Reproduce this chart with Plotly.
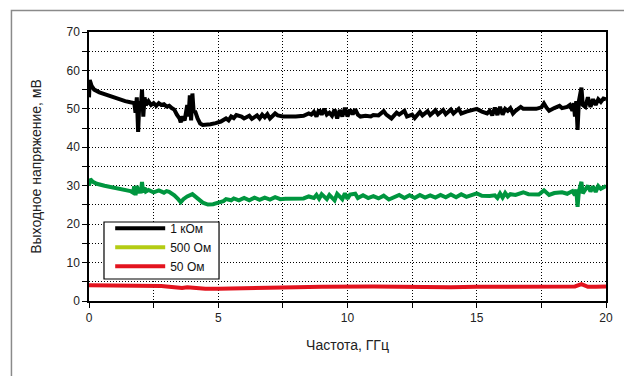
import plotly.graph_objects as go

# ---- data ----
freq_1k = [0.0, 0.03, 0.1, 0.2, 0.4, 0.6, 0.8, 1.0, 1.2, 1.4, 1.6, 1.75, 1.8, 1.85, 1.9, 1.95,
           2.0, 2.05, 2.1, 2.15, 2.2, 2.3, 2.4, 2.5, 2.6, 2.7, 2.8, 2.9, 3.0, 3.1, 3.2, 3.3,
           3.4, 3.5, 3.55, 3.6, 3.7, 3.8, 3.85, 3.9, 3.95, 4.0, 4.05, 4.1, 4.2, 4.3, 4.4, 4.5,
           4.7, 4.9, 5.1, 5.3, 5.4, 5.5, 5.6, 5.7, 5.9, 6.0, 6.2, 6.3, 6.5, 6.6, 6.7, 6.8,
           6.9, 7.0, 7.1, 7.2, 7.3, 7.5, 8.0, 8.3, 8.5, 8.6, 8.7, 8.8, 8.9, 9.0, 9.1, 9.2,
           9.3, 9.4, 9.5, 9.6, 9.7, 9.8, 9.9, 10.0, 10.1, 10.2, 10.3, 10.4, 10.5, 10.7, 10.9, 11.0,
           11.2, 11.4, 11.5, 11.7, 11.9, 12.0, 12.2, 12.3, 12.5, 12.6, 12.8, 12.9, 13.1, 13.2, 13.4, 13.5,
           13.7, 13.8, 14.0, 14.1, 14.3, 14.4, 14.6, 14.8, 15.0, 15.2, 15.4, 15.5, 15.6, 15.7, 15.8, 15.9,
           16.0, 16.1, 16.2, 16.3, 16.4, 16.5, 16.7, 16.8, 17.0, 17.3, 17.5, 17.6, 17.7, 17.8, 18.0, 18.2,
           18.3, 18.5, 18.6, 18.7, 18.75, 18.8, 18.85, 18.9, 18.95, 19.0, 19.05, 19.1, 19.2, 19.3, 19.4, 19.5,
           19.6, 19.7, 19.8, 19.9, 20.0]
volt_1k = [53.0, 57.5, 56.0, 55.0, 54.3, 53.8, 53.3, 52.8, 52.4, 52.0, 51.7, 51.5, 49.0, 53.0, 44.0, 52.0,
           50.0, 55.0, 48.0, 53.0, 51.0, 52.0, 51.0, 51.5, 50.8, 51.5, 51.0, 51.2, 50.6, 50.8, 50.2, 49.8,
           48.5, 47.5, 46.5, 48.0, 47.0, 51.0, 48.0, 53.5, 47.0, 54.0, 49.0, 49.5, 47.5, 46.2, 45.8, 45.8,
           46.0, 46.3, 46.7, 47.5, 47.0, 48.0, 47.6, 48.4, 48.0, 47.5, 48.2, 47.4, 48.3, 47.5, 48.5, 47.8,
           48.6, 47.5, 48.0, 48.8, 48.3, 48.0, 48.0, 48.2, 48.8, 48.5, 49.2, 48.0, 49.8, 48.5, 50.0, 48.5,
           49.0, 48.2, 49.8, 47.5, 49.7, 48.0, 50.3, 48.0, 49.8, 48.6, 49.9, 48.5, 48.0, 48.2, 48.0, 48.4,
           48.3, 49.4, 48.5, 47.5, 49.0, 48.5, 49.5, 48.0, 48.5, 47.6, 49.2, 48.3, 49.4, 48.4, 49.6, 48.6,
           49.7, 48.6, 49.8, 48.8, 50.0, 48.8, 49.3, 49.7, 50.0, 49.3, 48.8, 49.5, 48.3, 50.3, 48.4, 50.5,
           48.5, 50.0, 49.5, 50.2, 48.8, 49.5, 50.5, 50.0, 50.0, 50.0, 50.4, 51.4, 50.3, 49.5, 50.2, 50.8,
           50.2, 50.5, 51.0, 49.5, 51.5, 48.0, 52.0, 44.5, 52.0, 54.0, 55.5, 51.0, 50.5, 53.0, 50.5, 52.5,
           51.0, 52.5, 51.8, 52.7, 52.5]

freq_500 = [0.0, 0.05, 0.15, 0.3, 0.6, 1.0, 1.3, 1.6, 1.7, 1.75, 1.8, 1.85, 1.9, 1.95, 2.0, 2.05,
            2.1, 2.15, 2.2, 2.3, 2.5, 2.7, 2.9, 3.0, 3.1, 3.3, 3.45, 3.55, 3.65, 3.8, 4.0, 4.2,
            4.4, 4.6, 4.8, 5.0, 5.2, 5.3, 5.5, 5.6, 5.8, 6.0, 6.2, 6.4, 6.6, 6.8, 7.0, 7.2,
            7.4, 7.6, 8.0, 8.3, 8.5, 8.7, 8.8, 8.9, 9.0, 9.2, 9.3, 9.5, 9.6, 9.8, 9.9, 10.0,
            10.1, 10.3, 10.4, 10.6, 10.8, 11.0, 11.2, 11.4, 11.6, 11.8, 12.0, 12.2, 12.4, 12.6, 12.8, 13.0,
            13.2, 13.4, 13.6, 13.8, 14.0, 14.2, 14.4, 14.6, 14.8, 15.0, 15.2, 15.5, 15.7, 15.8, 15.9, 16.0,
            16.1, 16.2, 16.3, 16.5, 16.8, 17.0, 17.4, 17.6, 17.8, 18.0, 18.3, 18.5, 18.7, 18.8, 18.85, 18.9,
            18.95, 19.0, 19.05, 19.1, 19.2, 19.3, 19.4, 19.5, 19.6, 19.7, 19.8, 20.0]
volt_500 = [30.0, 31.7, 31.0, 30.5, 30.0, 29.5, 29.0, 28.6, 28.2, 29.8, 27.5, 30.0, 28.0, 29.5, 28.0, 31.0,
            28.2, 29.5, 28.5, 28.9, 28.3, 28.8, 28.2, 28.6, 28.4, 27.5, 26.5, 25.7, 26.5, 27.2, 27.8, 26.8,
            25.6, 25.1, 25.2, 25.6, 26.0, 26.5, 26.2, 26.7, 26.2, 26.8, 26.2, 26.9, 26.3, 26.9, 26.4, 27.0,
            26.5, 26.6, 26.6, 26.7, 27.2, 26.8, 27.6, 26.6, 27.8, 26.5, 27.6, 26.2, 27.9, 26.5, 28.0, 26.6,
            27.7, 27.9, 26.8, 27.5, 26.8, 27.3, 26.7, 27.4, 26.4, 27.0, 27.6, 26.8, 27.5, 26.8, 27.6, 26.9,
            27.5, 26.9, 27.6, 27.0, 27.7, 27.0, 27.8, 27.1, 27.5, 28.0, 27.4, 27.3, 27.5, 26.8, 28.0, 26.9,
            28.1, 27.2, 27.8, 27.6, 28.3, 27.8, 27.7, 28.8, 27.6, 28.1, 28.3, 27.9, 28.6, 27.5, 29.0, 24.5,
            28.5, 29.5, 31.0, 28.0, 29.2, 30.0, 28.5, 29.8, 28.4, 29.9, 29.2, 29.9]

freq_50 = [0.0, 1.0, 2.0, 2.8, 3.3, 3.6, 3.8, 4.1, 4.5, 5.0, 5.5, 6.0, 7.0, 8.0, 9.0, 10.0,
           11.0, 12.0, 13.0, 14.0, 15.0, 16.0, 17.0, 18.0, 18.8, 19.05, 19.3, 19.6, 20.0]
volt_50 = [4.1, 4.1, 4.0, 3.9, 3.6, 3.4, 3.6, 3.4, 3.2, 3.2, 3.3, 3.4, 3.5, 3.6, 3.7, 3.8,
           3.8, 3.7, 3.6, 3.6, 3.7, 3.7, 3.7, 3.7, 3.8, 4.4, 3.7, 3.7, 3.8]

legend_names = ["1 кОм", "500 Ом", "50 Ом"]
x_tick_vals = [0, 5, 10, 15, 20]
y_tick_vals = [0, 10, 20, 30, 40, 50, 60, 70]

BLACK = "#000000"
GREEN = "#00963f"
LEGEND_GREEN = "#b4cc14"
RED = "#e3141f"
FONT = "Liberation Sans, Arial, sans-serif"
DOTS = "1px,2px"

fig = go.Figure()
fig.add_trace(go.Scatter(x=freq_50, y=volt_50, mode="lines", name=legend_names[2],
                         line=dict(color=RED, width=4), legendrank=3))
fig.add_trace(go.Scatter(x=freq_500, y=volt_500, mode="lines", name=legend_names[1],
                         line=dict(color=GREEN, width=4), showlegend=False))
fig.add_trace(go.Scatter(x=freq_1k, y=volt_1k, mode="lines", name=legend_names[0],
                         line=dict(color=BLACK, width=4), legendrank=1))
# legend swatch for the 500 Ом entry (drawn in the legend's yellow-green)
fig.add_trace(go.Scatter(x=[None], y=[None], mode="lines", name=legend_names[1],
                         line=dict(color=LEGEND_GREEN, width=4), legendrank=2))

axis_common = dict(
    showline=True, linecolor="black", linewidth=1.5, mirror=True,
    ticks="outside", ticklen=5, tickcolor="black", tickwidth=1,
    showgrid=True, gridcolor="black", gridwidth=1, griddash=DOTS,
    zeroline=False,
    tickfont=dict(family=FONT, size=12, color="#222"),
)

fig.update_xaxes(
    range=[0, 20], tickvals=x_tick_vals,
    minor=dict(dtick=2.5, ticks="outside", ticklen=5, tickcolor="black",
               showgrid=True, gridcolor="black", griddash=DOTS, gridwidth=1),
    title=dict(text="Частота, ГГц", font=dict(family=FONT, size=14, color="#222"), standoff=16),
    **axis_common,
)
fig.update_yaxes(
    range=[0, 70], tickvals=y_tick_vals,
    minor=dict(dtick=5, ticks="outside", ticklen=5, tickcolor="black",
               showgrid=True, gridcolor="black", griddash=DOTS, gridwidth=1),
    title=dict(text="Выходное напряжение, мВ", font=dict(family=FONT, size=14, color="#222"), standoff=22),
    **axis_common,
)

fig.update_layout(
    width=624, height=368,
    margin=dict(l=81, r=26, t=24, b=75),
    paper_bgcolor="white", plot_bgcolor="white",
    font=dict(family=FONT, size=12, color="#222"),
    showlegend=True,
    legend=dict(
        x=0.041, y=0.324, xanchor="left", yanchor="top",
        bgcolor="rgba(0,0,0,0)", borderwidth=0,
        font=dict(family=FONT, size=12, color="#111"),
        tracegroupgap=0, itemwidth=50,
    ),
    shapes=[
        # outer picture frame
        dict(type="rect", xref="paper", yref="paper",
             x0=-0.15, x1=1.2, y0=-0.5, y1=1.08,
             line=dict(color="#8a8a8a", width=1.5), fillcolor="rgba(0,0,0,0)", layer="below"),
        # legend box
        dict(type="rect", xref="paper", yref="paper",
             x0=0.029, x1=0.2515, y0=0.0818, y1=0.2937,
             line=dict(color="black", width=1.2), fillcolor="white", layer="above"),
    ],
)

fig.write_html("out.html")
